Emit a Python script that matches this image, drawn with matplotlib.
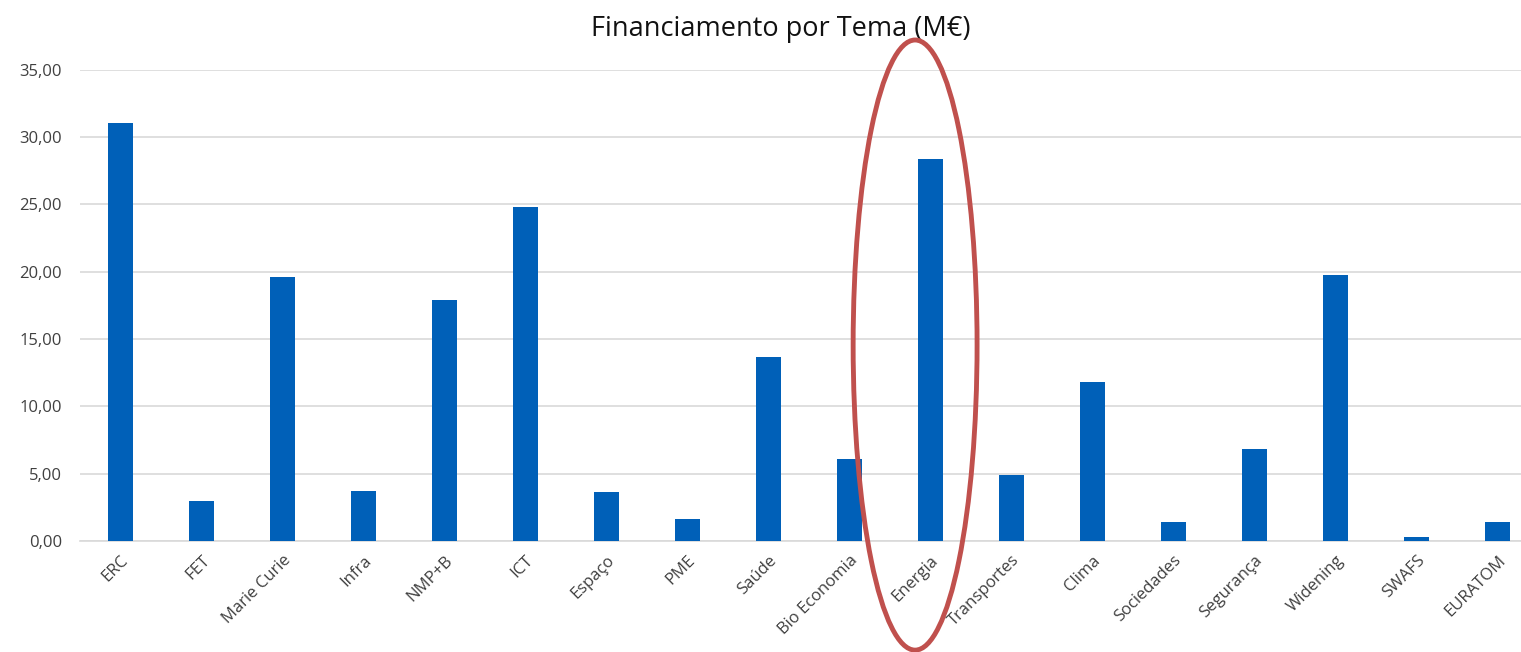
import matplotlib
matplotlib.use("Agg")
import matplotlib.pyplot as plt
from matplotlib.patches import Ellipse
from matplotlib.ticker import FuncFormatter

categories = ["ERC", "FET", "Marie Curie", "Infra", "NMP+B", "ICT", "Espaço", "PME",
              "Saúde", "Bio Economia", "Energia", "Transportes", "Clima", "Sociedades",
              "Segurança", "Widening", "SWAFS", "EURATOM"]
values = [31.05, 2.97, 19.62, 3.72, 17.90, 24.83, 3.64, 1.63, 13.67, 6.09, 28.38,
          4.90, 11.81, 1.41, 6.83, 19.76, 0.30, 1.41]
title = "Financiamento por Tema (M€)"
highlight = "Energia"

plt.rcParams['font.family'] = ['Open Sans', 'DejaVu Sans']

fig = plt.figure(figsize=(15.21, 6.52), dpi=100)
ax = fig.add_axes([80 / 1521, 0.170, 1458 / 1521, 0.723])

x = list(range(len(categories)))
ax.bar(x, values, width=0.32, color="#0060B8", zorder=3)
ax.set_xlim(-0.5, len(categories) - 0.5)
ax.set_ylim(0, 35)
ax.set_yticks([0, 5, 10, 15, 20, 25, 30, 35])
ax.yaxis.set_major_formatter(FuncFormatter(lambda v, p: f"{v:.2f}".replace(".", ",")))
ax.grid(axis="y", color="#D9D9D9", linewidth=1.2, zorder=0)
ax.set_axisbelow(True)
for s in ["top", "right", "left"]:
    ax.spines[s].set_visible(False)
ax.spines["bottom"].set_color("#D9D9D9")
ax.spines["bottom"].set_linewidth(1.2)
ax.tick_params(axis="both", length=0, colors="#404040")
ax.tick_params(axis="y", labelsize=12, pad=13)
ax.set_xticks(x)
ax.set_xticklabels(categories, rotation=45, ha="right", rotation_mode="anchor",
                   fontsize=12)
ax.tick_params(axis="x", pad=8)
ax.set_title(title, fontsize=19.5, color="#111111", x=(781 - 80) / 1458, pad=24)

hi = categories.index(highlight)
ell = Ellipse((hi - 0.19, 14.56), width=1.53, height=45.3, fill=False,
              edgecolor="#C0504D", linewidth=3.5, clip_on=False, zorder=5)
ax.add_patch(ell)

fig.savefig("out.png", dpi=100)
